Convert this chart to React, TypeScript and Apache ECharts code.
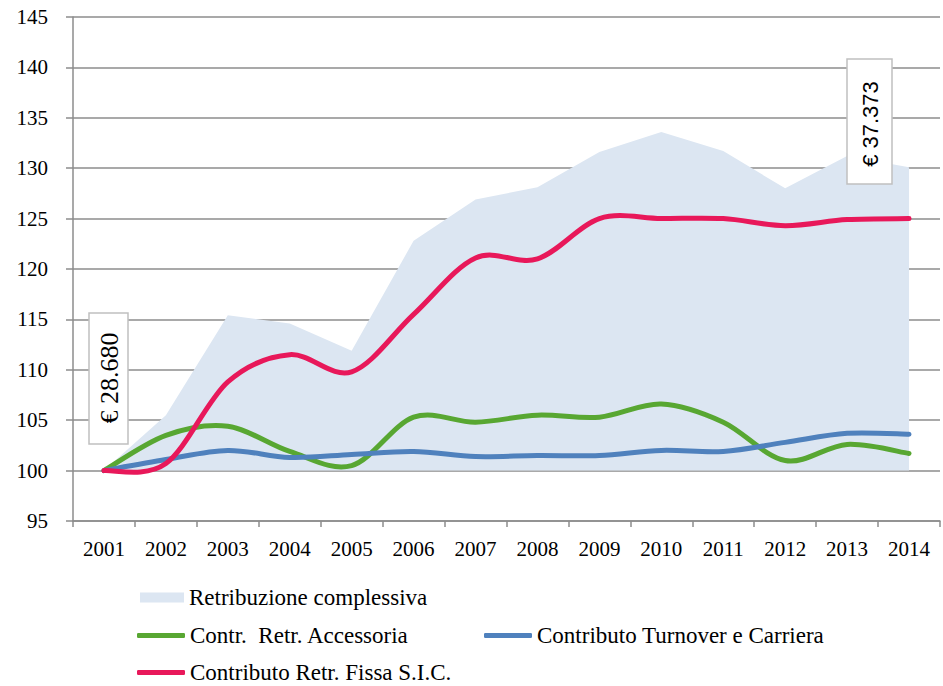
import React, { useEffect, useRef } from "react";
import * as echarts from "echarts";

const years = ["2001", "2002", "2003", "2004", "2005", "2006", "2007", "2008", "2009", "2010", "2011", "2012", "2013", "2014"];
const retribuzione = [100, 105.5, 115.4, 114.6, 111.9, 122.8, 126.9, 128.1, 131.6, 133.6, 131.7, 128.0, 131.2, 130.1];
const accessoria = [100, 103.5, 104.4, 101.9, 100.5, 105.3, 104.8, 105.5, 105.3, 106.6, 104.8, 101.0, 102.6, 101.7];
const turnover = [100, 101.1, 102.0, 101.3, 101.6, 101.9, 101.4, 101.5, 101.5, 102.0, 101.9, 102.8, 103.7, 103.6];
const fissa = [100, 100.7, 108.8, 111.5, 109.8, 115.5, 121.1, 121.0, 125.0, 125.0, 125.0, 124.3, 124.9, 125.0];

const names = [
  "Retribuzione complessiva",
  "Contr.  Retr. Accessoria",
  "Contributo Turnover e Carriera",
  "Contributo Retr. Fissa S.I.C.",
];
const startLabel = "€ 28.680";
const endLabel = "€ 37.373";

const SERIF = "Liberation Serif, Times New Roman, serif";
const GRID = "#8c8c8c";

// Excel-like smoothed line (Catmull-Rom bezier) drawn through the chart's own scales
function smoothSeries(name: string, values: number[], color: string, z: number) {
  return {
    name,
    type: "custom",
    coordinateSystem: "cartesian2d",
    data: values.map((v, i) => [i, v]),
    encode: { x: 0, y: 1 },
    itemStyle: { color },
    clip: false,
    z,
    renderItem: (params: any, api: any) => {
      if (params.dataIndex !== 0) return null;
      const pts = values.map((v, i) => api.coord([i, v]));
      const n = pts.length;
      const P = (i: number) => pts[Math.max(0, Math.min(n - 1, i))];
      let d = `M${pts[0][0]},${pts[0][1]}`;
      for (let i = 0; i < n - 1; i++) {
        const p0 = P(i - 1), p1 = P(i), p2 = P(i + 1), p3 = P(i + 2);
        const c1x = p1[0] + (p2[0] - p0[0]) / 6;
        const c1y = p1[1] + (p2[1] - p0[1]) / 6;
        const c2x = p2[0] - (p3[0] - p1[0]) / 6;
        const c2y = p2[1] - (p3[1] - p1[1]) / 6;
        d += ` C${c1x},${c1y} ${c2x},${c2y} ${p2[0]},${p2[1]}`;
      }
      return {
        type: "path",
        shape: { pathData: d },
        style: { fill: "none", stroke: color, lineWidth: 5, lineCap: "round", lineJoin: "round" },
      };
    },
  };
}

export default function App() {
  const ref = useRef<HTMLDivElement>(null);
  useEffect(() => {
    if (!ref.current) return;
    const chart = echarts.init(ref.current, null, { renderer: "svg" });
    const legendText = { fontFamily: SERIF, fontSize: 23, color: "#000" };
    const legendBase = { padding: 0, selectedMode: false, textStyle: legendText };
    chart.setOption({
      animation: false,
      backgroundColor: "#fff",
      textStyle: { fontFamily: SERIF, color: "#000" },
      grid: { left: 73, right: 3, top: 17, bottom: 165, containLabel: false },
      xAxis: {
        type: "category",
        data: years,
        boundaryGap: true,
        axisLine: { show: true, lineStyle: { color: GRID, width: 1.5 } },
        axisTick: { show: true, length: 6, lineStyle: { color: GRID, width: 1.5 } },
        axisLabel: { fontFamily: SERIF, fontSize: 21, color: "#000", margin: 17 },
        splitLine: { show: false },
      },
      yAxis: {
        type: "value",
        min: 95,
        max: 145,
        interval: 5,
        axisLine: { show: true, lineStyle: { color: GRID, width: 1.5 } },
        axisTick: { show: true, length: 7, lineStyle: { color: GRID, width: 1.5 } },
        axisLabel: { fontFamily: SERIF, fontSize: 21, color: "#000", margin: 25 },
        splitLine: { show: true, lineStyle: { color: GRID, width: 1.5 } },
      },
      legend: [
        { ...legendBase, data: [{ name: names[0], icon: "rect" }], left: 140, top: 586, itemWidth: 44, itemHeight: 10 },
        { ...legendBase, data: [{ name: names[1], icon: "roundRect" }], left: 137, top: 624, itemWidth: 48, itemHeight: 5 },
        { ...legendBase, data: [{ name: names[2], icon: "roundRect" }], left: 484, top: 624, itemWidth: 48, itemHeight: 5 },
        { ...legendBase, data: [{ name: names[3], icon: "roundRect" }], left: 137, top: 661, itemWidth: 48, itemHeight: 5 },
      ],
      series: [
        {
          name: names[0],
          type: "line",
          z: 1,
          data: retribuzione,
          smooth: false,
          showSymbol: false,
          symbol: "none",
          color: "#dce6f2",
          lineStyle: { width: 0, color: "#dce6f2" },
          areaStyle: { color: "#dce6f2", opacity: 1, origin: 100 },
        },
        smoothSeries(names[1], accessoria, "#58a732", 3),
        smoothSeries(names[2], turnover, "#4f81bd", 4),
        smoothSeries(names[3], fissa, "#e8185a", 5),
      ],
      graphic: [
        {
          type: "rect",
          shape: { x: 89, y: 313, width: 39, height: 131 },
          style: { fill: "#fff", stroke: "#c0c0c0", lineWidth: 1.5 },
          z: 100,
        },
        {
          type: "text",
          x: 109, y: 378,
          rotation: Math.PI / 2,
          style: {
            text: startLabel, fill: "#000", font: "26px Liberation Serif",
            textAlign: "center", textVerticalAlign: "middle", align: "center", verticalAlign: "middle",
          },
          z: 101,
        },
        {
          type: "rect",
          shape: { x: 847, y: 59, width: 45, height: 125 },
          style: { fill: "#fff", stroke: "#c0c0c0", lineWidth: 1.5 },
          z: 100,
        },
        {
          type: "text",
          x: 870, y: 124,
          rotation: Math.PI / 2,
          style: {
            text: endLabel, fill: "#000", font: "22px Liberation Sans",
            textAlign: "center", textVerticalAlign: "middle", align: "center", verticalAlign: "middle",
          },
          z: 101,
        },
      ],
    });
    return () => chart.dispose();
  }, []);
  return <div ref={ref} style={{ width: 943, height: 686, position: "absolute", left: 0, top: 0 }} />;
}
